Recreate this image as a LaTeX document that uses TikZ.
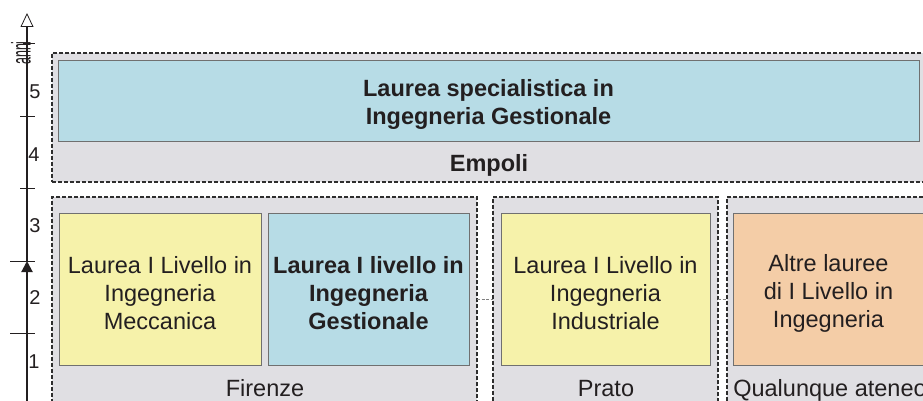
\documentclass[tikz,border=0pt]{standalone}
\usepackage{fontspec}
\setmainfont{Liberation Sans}
\usetikzlibrary{arrows.meta}
\definecolor{regfill}{HTML}{E0DFE3}
\definecolor{regline}{HTML}{2E2E2E}
\definecolor{bluefill}{HTML}{B7DCE6}
\definecolor{yelfill}{HTML}{F6F2AA}
\definecolor{orfill}{HTML}{F4CDA7}
\definecolor{boxline}{HTML}{707070}
\definecolor{txt}{HTML}{231F20}
\begin{document}
\begin{tikzpicture}[x=1pt,y=-1pt,
  region/.style={draw=regline, fill=regfill, line width=1.8pt,
    dash pattern=on 4pt off 2pt, anchor=north west, inner sep=0pt, outer sep=0pt},
  inbox/.style={draw=boxline, line width=1pt, anchor=north west, inner sep=0pt, outer sep=0pt},
  bigtxt/.style={font=\fontsize{23.5}{28}\selectfont, text=txt, align=center},
  bigbold/.style={font=\fontsize{23.5}{28}\selectfont\bfseries, text=txt, align=center},
  ylab/.style={font=\fontsize{20}{20}\selectfont, text=txt},
  tickline/.style={line width=1pt, draw=txt},
  conn/.style={draw=gray, line width=0.5pt, dash pattern=on 3pt off 1.5pt}]
\useasboundingbox (0,0) rectangle (923,401);
\clip (0,0) rectangle (923,401);
\fill[white] (0,0) rectangle (923,401);

% regions
\node[region, minimum width=874pt, minimum height=129pt] (empoli) at (52,53) {};
\node[region, minimum width=425pt, minimum height=220pt] (firenze) at (52,197) {};
\node[region, minimum width=225pt, minimum height=220pt] (prato) at (493,197) {};
\node[region, minimum width=213pt, minimum height=220pt] (qualunque) at (727,197) {};

% inner boxes
\node[inbox, fill=bluefill, minimum width=861pt, minimum height=80pt] (spec) at (58,61) {};
\node[inbox, fill=yelfill, minimum width=202pt, minimum height=152pt] (mecc) at (59,213) {};
\node[inbox, fill=bluefill, minimum width=201pt, minimum height=152pt] (gest) at (268,213) {};
\node[inbox, fill=yelfill, minimum width=209pt, minimum height=152pt] (indu) at (501,213) {};
\node[inbox, fill=orfill, minimum width=191pt, minimum height=152pt] (altre) at (733,213) {};

% box texts
\node[bigbold, yshift=-3pt] (spectxt) at (spec.center) {Laurea specialistica in\\Ingegneria Gestionale};
\node[bigtxt, yshift=-4pt] (mecctxt) at (mecc.center) {Laurea I Livello in\\Ingegneria\\Meccanica};
\node[bigbold, yshift=-4pt] (gesttxt) at (gest.center) {Laurea I livello in\\Ingegneria\\Gestionale};
\node[bigtxt, yshift=-4pt] (indutxt) at (indu.center) {Laurea I Livello in\\Ingegneria\\Industriale};
\node[bigtxt, yshift=-4pt] (altretxt) at (altre.center) {Altre lauree\\di I Livello in\\Ingegneria};

% region labels
\node[bigbold, anchor=base] (emplab) at (489,171) {Empoli};
\node[bigtxt, anchor=base] (firlab) at (265,396) {Firenze};
\node[bigtxt, anchor=base] (pratlab) at (606,396) {Prato};
\node[bigtxt, anchor=base] (qualab) at (830,396) {Qualunque ateneo};

% connectors between regions
\coordinate (link) at (0,299);
\draw[conn] (firenze.east |- link) -- (prato.west |- link);
\draw[conn] (prato.east |- link) -- (qualunque.west |- link);

% axis
\coordinate (axbot) at (27,410);
\coordinate (axmid) at (27,261);
\coordinate (axtop) at (27,13);
\draw[line width=1.2pt, draw=txt, -{Triangle[open, length=14pt, width=13pt, line width=0.8pt]}] (axmid) -- (axtop);
\draw[line width=2pt, draw=txt, -{Triangle[length=11pt, width=11pt]}] (axbot) -- (axmid);
\draw[tickline] (23,44) -- (35,44);
\draw[tickline] (20,117) -- (35,117);
\draw[tickline] (20,188) -- (35,188);
\draw[tickline] (10,261) -- (35,261);
\draw[tickline] (10,333) -- (35,333);
\node[ylab] (y5) at (35,92) {5};
\node[ylab] (y4) at (34,155) {4};
\node[ylab] (y3) at (35,226) {3};
\node[ylab] (y2) at (35,298) {2};
\node[ylab] (y1) at (34,362) {1};
\node[rotate=90, text=txt, inner sep=0pt, anchor=south] (anni) at (31,53) {\scalebox{0.46}[1]{\fontsize{27}{27}\selectfont anni}};
\end{tikzpicture}
\end{document}
